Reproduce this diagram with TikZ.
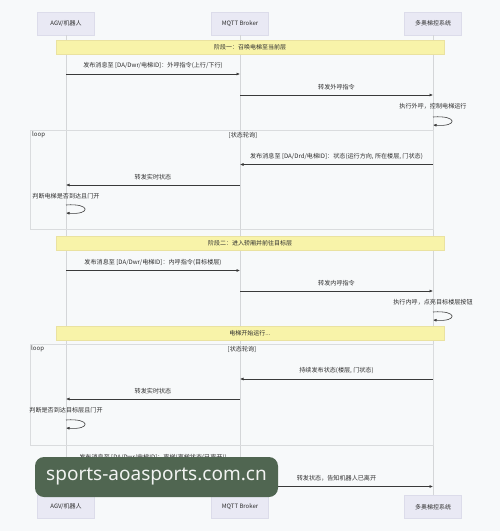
\documentclass[tikz,border=0pt]{standalone}
\usepackage{fontspec}
\setmainfont{Noto Sans CJK SC}
\newfontfamily\wmfont{Noto Sans}
\usetikzlibrary{arrows.meta}

\definecolor{bgcol}{HTML}{F7F9FA}
\definecolor{actorfill}{HTML}{E9E9F4}
\definecolor{actorline}{HTML}{DCDCEA}
\definecolor{notefill}{HTML}{F8F3A9}
\definecolor{noteline}{HTML}{EAE2A0}
\definecolor{lifecol}{HTML}{D4D6D8}
\definecolor{msgcol}{HTML}{3A3A3A}
\definecolor{framecol}{HTML}{DADCDE}
\definecolor{textcol}{HTML}{2E2E2E}
\definecolor{wmfill}{HTML}{506651}

\tikzset{
  actor/.style={draw=actorline, fill=actorfill, line width=0.4pt, minimum width=57pt,
    minimum height=23pt, inner sep=1pt, font=\fontsize{6}{7}\selectfont, text=textcol},
  life/.style={draw=lifecol, line width=0.6pt},
  msg/.style={draw=msgcol, line width=0.6pt, -{Latex[length=3.5pt,width=3pt]}},
  lbl/.style={font=\fontsize{6.1}{7}\selectfont, text=textcol, inner sep=0pt},
  notebox/.style={draw=noteline, fill=notefill, line width=0.4pt, minimum width=388pt,
    minimum height=14pt, inner sep=1pt, font=\fontsize{6}{7}\selectfont, text=textcol},
  loopframe/.style={draw=framecol, line width=0.6pt},
  wmbox/.style={fill=wmfill, rounded corners=9pt, minimum width=243pt, minimum height=40pt,
    text=white!92!wmfill, font=\wmfont\fontsize{19}{21}\selectfont},
}

% message between two lifelines: y, from, to, text
\newcommand{\msgline}[4]{\draw[msg] (#2 |- 0,#1) -- node[lbl, above=5pt]{#4} (#3 |- 0,#1);}
% self message: text y, loop top, loop bottom, lifeline, text
\newcommand{\selfmsg}[5]{
  \node[lbl] at (#4 |- 0,#1) {#5};
  \draw[msg] (#4 |- 0,#2) .. controls +(25,-2) and +(25,2) .. (#4 |- 0,#3);
}

\begin{document}
\begin{tikzpicture}[x=1pt, y=-1pt]
\fill[bgcol] (0,0) rectangle (500,531);
\useasboundingbox (0,0) rectangle (500,531);

\node[actor] (agv) at (66,23.5) {AGV/机器人};
\node[actor] (broker) at (240,23.5) {MQTT Broker};
\node[actor] (elev) at (433,23.5) {多奥梯控系统};
\node[actor] (agvB) at (66,507) {AGV/机器人};
\node[actor] (brokerB) at (240,507) {MQTT Broker};
\node[actor] (elevB) at (433,507) {多奥梯控系统};

\draw[life] (agv) -- (agvB);
\draw[life] (broker) -- (brokerB);
\draw[life] (elev) -- (elevB);

% loop frames
\draw[loopframe] (30,130) rectangle (433,229);
\node[lbl, anchor=west] (loopA) at (32,134.5) {loop};
\node[lbl] (condA) at (243,135) {[状态轮询]};
\draw[loopframe] (30,344) rectangle (433,445);
\node[lbl, anchor=west] (loopB) at (31,349) {loop};
\node[lbl] (condB) at (242,349) {[状态轮询]};

\node[notebox] (note1) at (250,47) {阶段一：召唤电梯至当前层};
\msgline{74}{agv}{broker}{发布消息至 [DA/Dwr/电梯ID]：外呼指令(上行/下行)}
\msgline{95}{broker}{elev}{转发外呼指令}
\selfmsg{106}{117}{125}{elev}{执行外呼，控制电梯运行}
\msgline{164.5}{elev}{broker}{发布消息至 [DA/Drd/电梯ID]：状态(运行方向, 所在楼层, 门状态)}
\msgline{185}{broker}{agv}{转发实时状态}
\selfmsg{196}{205}{213}{agv}{判断电梯是否到达且门开}

\node[notebox] (note2) at (250,243) {阶段二：进入轿厢并前往目标层};
\msgline{270.5}{agv}{broker}{发布消息至 [DA/Dwr/电梯ID]：内呼指令(目标楼层)}
\msgline{291}{broker}{elev}{转发内呼指令}
\selfmsg{302}{312}{320}{elev}{执行内呼，点亮目标楼层按钮}

\node[notebox] (note3) at (250,333.5) {电梯开始运行...};
\msgline{379}{elev}{broker}{持续发布状态(楼层, 门状态)}
\msgline{399}{broker}{agv}{转发实时状态}
\selfmsg{410}{420}{428}{agv}{判断是否到达目标层且门开}

\msgline{466}{agv}{broker}{发布消息至 [DA/Dwr/电梯ID]：离梯(离梯状态(已离开))}
\msgline{486.5}{broker}{elev}{转发状态，告知机器人已离开}

\node[wmbox] (ad) at (156.5,477) {sports-aoasports.com.cn};
\end{tikzpicture}
\end{document}
